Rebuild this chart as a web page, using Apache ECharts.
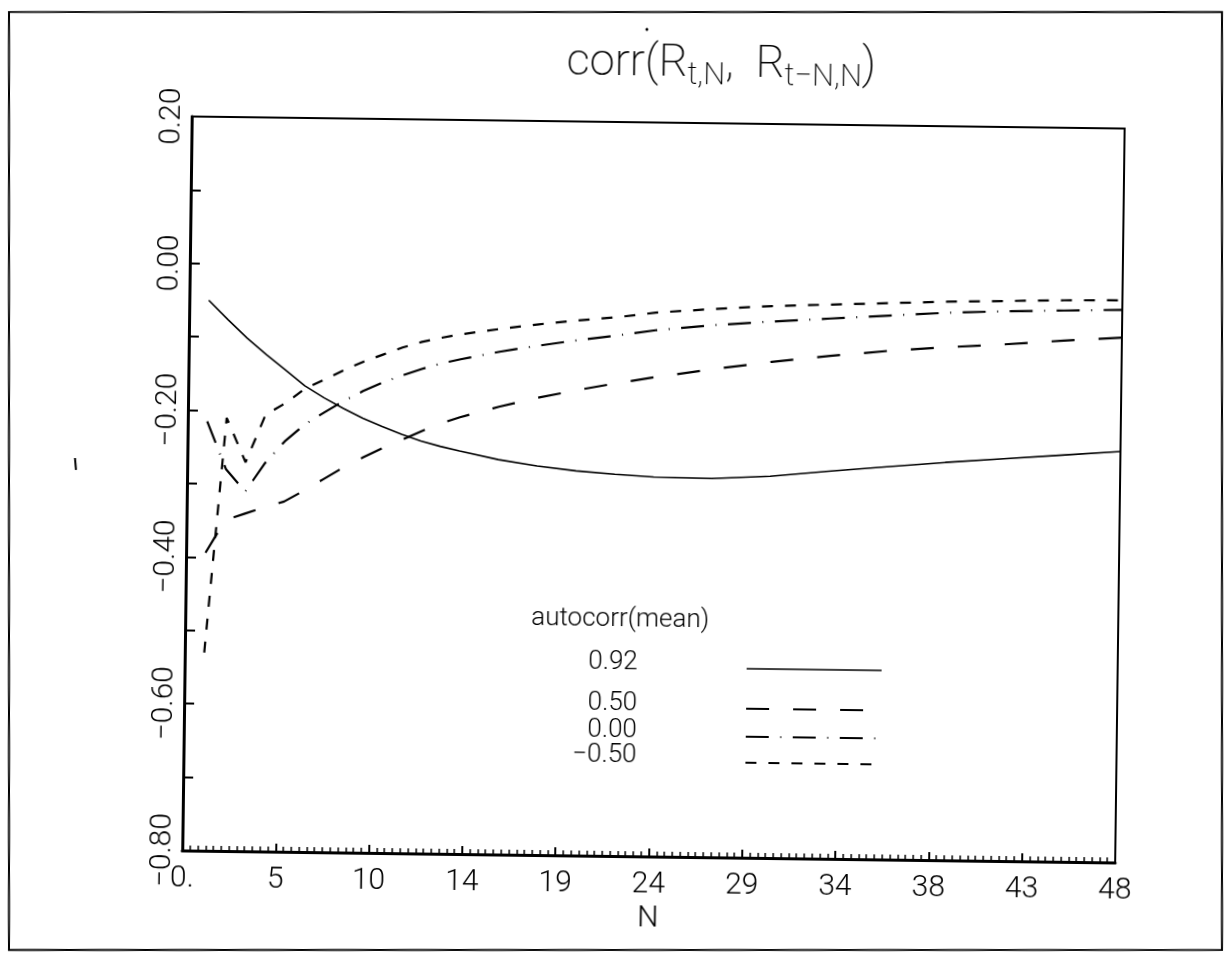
<!DOCTYPE html>
<html>
<head>
<meta charset="utf-8">
<script src="https://cdn.jsdelivr.net/npm/echarts@6/dist/echarts.min.js"></script>
<style>
html, body { margin: 0; padding: 0; background: #fff; }
#chart { width: 1230px; height: 969px; transform: rotate(0.74deg); transform-origin: 50% 50%; }
</style>
</head>
<body>
<div id="chart"></div>
<script>
// Return horizon N at which each correlation was evaluated
const horizons = [1, 2, 3, 4, 5, 6, 7, 8, 9, 10, 11, 12, 13, 14, 16, 18, 20, 22, 24, 27, 30, 33, 36, 39, 42, 45, 48];

// corr(R_{t,N}, R_{t-N,N}) for each first-order autocorrelation of the mean
const corrAuto092 = [-0.050, -0.076, -0.101, -0.123, -0.144, -0.165, -0.181, -0.195, -0.208, -0.219, -0.229, -0.238, -0.245, -0.251, -0.262, -0.270, -0.276, -0.280, -0.283, -0.284, -0.280, -0.272, -0.265, -0.258, -0.252, -0.246, -0.240];
const corrAuto050 = [-0.394, -0.349, -0.340, -0.331, -0.323, -0.308, -0.292, -0.276, -0.262, -0.249, -0.237, -0.225, -0.214, -0.205, -0.190, -0.177, -0.166, -0.156, -0.147, -0.135, -0.124, -0.115, -0.107, -0.101, -0.096, -0.090, -0.085];
const corrAuto000 = [-0.215, -0.280, -0.310, -0.271, -0.241, -0.218, -0.201, -0.185, -0.171, -0.159, -0.149, -0.140, -0.132, -0.126, -0.115, -0.106, -0.098, -0.091, -0.083, -0.075, -0.069, -0.064, -0.059, -0.054, -0.051, -0.049, -0.047];
const corrAutoM050 = [-0.530, -0.210, -0.270, -0.205, -0.189, -0.169, -0.156, -0.143, -0.131, -0.121, -0.111, -0.103, -0.097, -0.092, -0.084, -0.077, -0.071, -0.066, -0.059, -0.053, -0.048, -0.045, -0.042, -0.039, -0.037, -0.035, -0.034];

const legendTitle = 'autocorr(mean)';
const legendLabels = ['0.92', '0.50', '0.00', '\u22120.50'];
const xTickLabels = ['0.', '5', '10', '14', '19', '24', '29', '34', '38', '43', '48'];
const yTickLabels = ['\u22120.80', '\u22120.60', '\u22120.40', '\u22120.20', '0.00', '0.20'];

const FONT = 'Roboto, "DejaVu Sans", sans-serif';
const INK = '#000';

// line patterns, one per series
const seriesStyles = [
  { width: 1.6, type: 'solid' },
  { width: 2.2, type: [23, 24] },
  { width: 2.2, type: [23, 11.5, 1, 11.5] },
  { width: 2.2, type: [11, 12] }
];
const seriesValues = [corrAuto092, corrAuto050, corrAuto000, corrAutoM050];

const chart = echarts.init(document.getElementById('chart'), null, { renderer: 'canvas' });

const series = seriesValues.map((vals, i) => ({
  name: legendLabels[i],
  type: 'line',
  data: horizons.map((n, j) => [n, vals[j]]),
  showSymbol: false,
  symbol: 'none',
  silent: true,
  lineStyle: { color: INK, width: seriesStyles[i].width, type: seriesStyles[i].type },
  z: 3
}));

// legend block: header, value labels on the left, line samples on the right
const legendRowsY = [662, 703, 730, 755];
const legendLineY = [667, 707, 735, 761];
const legendGraphics = [
  { type: 'text', x: 533, y: 619, style: { text: legendTitle, font: '300 26px ' + FONT, fill: INK, textAlign: 'left', textVerticalAlign: 'middle' } }
];
legendLabels.forEach((lab, i) => {
  legendGraphics.push({ type: 'text', x: 640, y: legendRowsY[i], style: { text: lab, font: '300 26px ' + FONT, fill: INK, textAlign: 'right', textVerticalAlign: 'middle' } });
  legendGraphics.push({ type: 'line', shape: { x1: 749, y1: legendLineY[i], x2: 884, y2: legendLineY[i] },
    style: { stroke: INK, lineWidth: seriesStyles[i].width, lineDash: seriesStyles[i].type === 'solid' ? null : seriesStyles[i].type } });
});

const tilt = 0.74 * Math.PI / 180;

chart.setOption({
  backgroundColor: '#fff',
  animation: false,
  grid: { left: 187, top: 122, right: 110, bottom: 113, show: true, borderColor: INK, borderWidth: 2, backgroundColor: 'transparent' },
  xAxis: {
    type: 'value', min: 0, max: 48, interval: 4.8,
    name: 'N', nameLocation: 'middle', nameGap: 46,
    nameTextStyle: { fontFamily: FONT, fontWeight: 300, fontSize: 30, color: INK },
    axisLine: { show: true, onZero: false, lineStyle: { color: INK, width: 3 } },
    axisTick: { show: true, inside: true, length: 8, lineStyle: { color: INK, width: 2 } },
    minorTick: { show: true, splitNumber: 12, length: 5, lineStyle: { color: INK, width: 1.5 } },
    splitLine: { show: false },
    axisLabel: {
      margin: 13, fontFamily: FONT, fontWeight: 300, fontSize: 30, color: INK,
      formatter: v => xTickLabels[Math.round(v / 4.8)] ?? ''
    }
  },
  yAxis: {
    type: 'value', min: -0.8, max: 0.2, interval: 0.1,
    axisLine: { show: true, onZero: false, lineStyle: { color: INK, width: 3 } },
    axisTick: { show: true, inside: true, length: 10, lineStyle: { color: INK, width: 2 } },
    splitLine: { show: false },
    axisLabel: {
      rotate: 90, margin: 5, fontFamily: FONT, fontWeight: 300, fontSize: 30, color: INK,
      formatter: v => {
        const k = Math.round(v * 10);
        return (k % 2 === 0) ? (yTickLabels[(k + 8) / 2] ?? '') : '';
      }
    }
  },
  series: series,
  graphic: [
    {
      type: 'text', x: 716, y: 64,
      style: {
        rich: {
          m: { font: '200 45px ' + FONT, fill: INK, lineHeight: 54 },
          s: { font: '200 31px ' + FONT, fill: INK, lineHeight: 20, verticalAlign: 'bottom' }
        },
        text: '{m|corr(R}{s|t,N}{m|,  R}{s|t\u2212N,N}{m|)}',
        textAlign: 'center', textVerticalAlign: 'middle'
      }
    },
    // small pen dot above the opening parenthesis
    { type: 'circle', shape: { cx: 641, cy: 29, r: 1.5 }, style: { fill: INK } },
    ...legendGraphics,
    // page frame and margin mark, kept level with the sheet
    {
      type: 'group', x: 615, y: 484.5, rotation: tilt,
      children: [
        { type: 'rect', shape: { x: 9 - 615, y: 12 - 484.5, width: 1213, height: 938 }, style: { fill: 'none', stroke: INK, lineWidth: 2 } },
        { type: 'line', shape: { x1: 75 - 615, y1: 458 - 484.5, x2: 76 - 615, y2: 470 - 484.5 }, style: { stroke: INK, lineWidth: 2 } }
      ]
    }
  ]
});
</script>
</body>
</html>
